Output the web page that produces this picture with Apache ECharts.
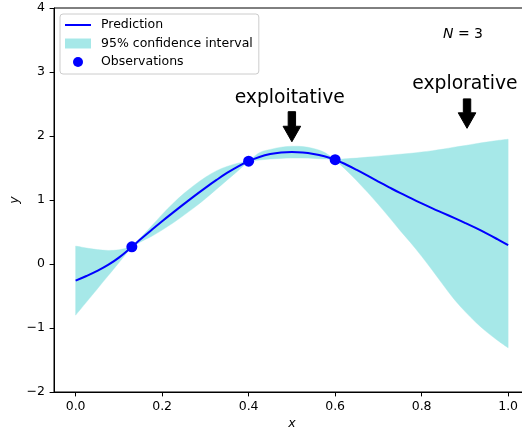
<!DOCTYPE html>
<html>
<head>
<meta charset="utf-8">
<script src="https://cdn.jsdelivr.net/npm/echarts@6/dist/echarts.min.js"></script>
<style>
  html, body { margin: 0; padding: 0; background: #fff; }
  #chart { width: 522px; height: 430px; }
</style>
</head>
<body>
<div id="chart"></div>
<script>
// Gaussian-process fit after three observations (x = 0.13, 0.4, 0.6)
const xs = [0, 0.025, 0.05, 0.075, 0.1, 0.13, 0.15, 0.175, 0.2, 0.225, 0.25, 0.275, 0.3, 0.325, 0.35, 0.375,
            0.4, 0.425, 0.45, 0.475, 0.5, 0.525, 0.55, 0.575, 0.6, 0.625, 0.65, 0.675, 0.7, 0.725, 0.75, 0.775,
            0.8, 0.825, 0.85, 0.875, 0.9, 0.925, 0.95, 0.975, 1.0];
const meanY = [-0.26, -0.188, -0.108, -0.015, 0.1, 0.268, 0.385, 0.528, 0.668, 0.803, 0.935, 1.065, 1.19, 1.31, 1.423, 1.523,
               1.607, 1.673, 1.718, 1.743, 1.75, 1.743, 1.72, 1.683, 1.63, 1.555, 1.47, 1.38, 1.288, 1.198, 1.11, 1.028,
               0.948, 0.87, 0.795, 0.72, 0.643, 0.563, 0.478, 0.388, 0.295];
const upperY = [0.28, 0.25, 0.225, 0.212, 0.222, 0.268, 0.41, 0.59, 0.775, 0.945, 1.10, 1.235, 1.355, 1.455, 1.525, 1.575,
                1.607, 1.74, 1.79, 1.825, 1.84, 1.835, 1.805, 1.745, 1.63, 1.645, 1.655, 1.67, 1.685, 1.70, 1.715, 1.73,
                1.75, 1.77, 1.795, 1.825, 1.85, 1.88, 1.905, 1.93, 1.95];
const lowerY = [-0.80, -0.595, -0.39, -0.185, 0.02, 0.268, 0.345, 0.43, 0.53, 0.64, 0.76, 0.885, 1.02, 1.165, 1.31, 1.455,
                1.607, 1.625, 1.64, 1.65, 1.655, 1.655, 1.65, 1.64, 1.63, 1.47, 1.30, 1.12, 0.93, 0.73, 0.525, 0.33,
                0.12, -0.10, -0.33, -0.55, -0.74, -0.91, -1.06, -1.19, -1.31];

const obsX = [0.13, 0.4, 0.6];
const obsY = [0.268, 1.607, 1.63];

// the interval collapses at each observation, so it is drawn piece by piece between them
const bandPieces = [[0, 0.13], [0.13, 0.4], [0.4, 0.6], [0.6, 1.0]];

const xTicks = [0, 0.2, 0.4, 0.6, 0.8, 1.0];

// annotation arrows with their captions
const notes      = ['exploitative', 'explorative'];
const noteArrowX = [0.5, 0.905];
const noteTailY  = [2.38, 2.58];
const noteTipY   = [1.91, 2.12];
const noteTextX  = [0.495, 0.9];
const noteTextY  = [2.59, 2.81];

const FONT = 'DejaVu Sans';
const BAND = '#a6e8e8';
const BLUE = '#0000ff';

// Catmull-Rom curve through pixel points, written as SVG cubic segments
function splineThrough(pts, startCmd) {
  let d = startCmd + pts[0][0] + ',' + pts[0][1];
  for (let i = 0; i < pts.length - 1; i++) {
    const p0 = pts[Math.max(i - 1, 0)], p1 = pts[i], p2 = pts[i + 1], p3 = pts[Math.min(i + 2, pts.length - 1)];
    const c1 = [p1[0] + (p2[0] - p0[0]) / 6, p1[1] + (p2[1] - p0[1]) / 6];
    const c2 = [p2[0] - (p3[0] - p1[0]) / 6, p2[1] - (p3[1] - p1[1]) / 6];
    d += ' C' + c1[0] + ',' + c1[1] + ' ' + c2[0] + ',' + c2[1] + ' ' + p2[0] + ',' + p2[1];
  }
  return d;
}

const chart = echarts.init(document.getElementById('chart'));

const option = {
  animation: false,
  backgroundColor: '#fff',
  grid: {
    left: 54, top: 8, width: 475.75, height: 384,
    show: true, borderColor: '#000', borderWidth: 1,
    outerBoundsMode: 'none'
  },
  legend: {
    orient: 'vertical',
    left: 60, top: 14,
    padding: [3.5, 6, 4.5, 5],
    itemGap: 3.5,
    itemWidth: 26, itemHeight: 10,
    symbolKeepAspect: true,
    backgroundColor: 'rgba(255,255,255,0.8)',
    borderColor: '#cccccc', borderWidth: 1, borderRadius: 3,
    selectedMode: false,
    textStyle: { fontFamily: FONT, fontSize: 12.5, color: '#000', lineHeight: 15, padding: [0, 0, 0, 5] },
    data: [
      { name: 'Prediction', icon: 'path://M0,0h26v2h-26z', itemStyle: { color: BLUE, borderWidth: 0 } },
      { name: '95% confidence interval', icon: 'rect', itemStyle: { color: BAND, borderWidth: 0 } },
      { name: 'Observations', icon: 'circle', itemStyle: { color: BLUE, opacity: 1, borderWidth: 0 } }
    ]
  },
  graphic: [{
    type: 'text', left: 443, top: 27,
    style: {
      text: '{i|N} = 3',
      font: '14px "DejaVu Sans"',
      fill: '#000',
      rich: { i: { fontStyle: 'italic', fontFamily: FONT, fontSize: 14, fill: '#000' } }
    }
  }],
  xAxis: {
    type: 'value', min: -0.05, max: 1.05,
    axisLine: { show: true, onZero: false, lineStyle: { color: '#000', width: 1 } },
    axisTick: { show: true, length: 4.4, customValues: xTicks, lineStyle: { color: '#000', width: 1 } },
    axisLabel: { customValues: xTicks, formatter: v => v.toFixed(1), margin: 8, color: '#000', fontFamily: FONT, fontSize: 12.5 },
    splitLine: { show: false },
    name: 'x', nameLocation: 'middle', nameGap: 25, nameMoveOverlap: false,
    nameTextStyle: { fontStyle: 'italic', fontFamily: FONT, fontSize: 12.5, color: '#000' }
  },
  yAxis: {
    type: 'value', min: -2, max: 4, interval: 1,
    axisLine: { show: true, onZero: false, lineStyle: { color: '#000', width: 1 } },
    axisTick: { show: true, length: 4.4, lineStyle: { color: '#000', width: 1 } },
    axisLabel: { formatter: v => (v < 0 ? '\u2212' + Math.abs(v) : String(v)), margin: 9, color: '#000', fontFamily: FONT, fontSize: 12.5 },
    splitLine: { show: false },
    name: 'y', nameLocation: 'middle', nameGap: 33, nameMoveOverlap: false,
    nameTextStyle: { fontStyle: 'italic', fontFamily: FONT, fontSize: 12.5, color: '#000' }
  },
  series: [
    {
      name: '95% confidence interval', type: 'custom', silent: true, z: 1,
      itemStyle: { color: BAND },
      data: bandPieces,
      encode: { x: [0, 1] },
      renderItem: function (params, api) {
        const x0 = api.value(0), x1 = api.value(1);
        const up = [], lo = [];
        xs.forEach((x, i) => {
          if (x >= x0 - 1e-9 && x <= x1 + 1e-9) {
            up.push(api.coord([x, upperY[i]]));
            lo.push(api.coord([x, lowerY[i]]));
          }
        });
        lo.reverse();
        const d = splineThrough(up, 'M') + ' ' + splineThrough(lo, 'L') + ' Z';
        return {
          type: 'path',
          shape: { pathData: d },
          style: { fill: BAND, stroke: BAND, lineWidth: 0.4 }
        };
      }
    },
    {
      name: 'Prediction', type: 'line', smooth: 0.4, symbol: 'none',
      data: xs.map((x, i) => [x, meanY[i]]),
      lineStyle: { color: BLUE, width: 2 },
      itemStyle: { color: BLUE }, z: 3
    },
    {
      name: 'Observations', type: 'scatter', symbol: 'circle', symbolSize: 11,
      data: obsX.map((x, i) => [x, obsY[i]]),
      itemStyle: { color: BLUE, opacity: 1 }, z: 4
    },
    {
      name: 'notes', type: 'custom', silent: true, z: 5,
      data: notes.map((t, i) => [noteArrowX[i], noteTailY[i], noteTipY[i], noteTextX[i], noteTextY[i]]),
      encode: { x: [0, 3], y: [1, 2, 4] },
      renderItem: function (params, api) {
        const i = params.dataIndex;
        const tail = api.coord([api.value(0), api.value(1)]);
        const tip = api.coord([api.value(0), api.value(2)]);
        const lab = api.coord([api.value(3), api.value(4)]);
        const sw = 3.7, hw = 8.8, hl = 15.5;
        const cx = tail[0];
        const headY = tip[1] - hl;
        return {
          type: 'group',
          children: [
            {
              type: 'polygon',
              shape: { points: [[cx - sw, tail[1]], [cx + sw, tail[1]], [cx + sw, headY], [cx + hw, headY], [cx, tip[1]], [cx - hw, headY], [cx - sw, headY]] },
              style: { fill: '#000', stroke: '#000', lineWidth: 1 }
            },
            {
              type: 'text',
              style: { text: notes[i], x: lab[0], y: lab[1], align: 'center', verticalAlign: 'middle', font: '18.75px "DejaVu Sans"', fill: '#000' }
            }
          ]
        };
      }
    }
  ]
};

chart.setOption(option);
</script>
</body>
</html>
